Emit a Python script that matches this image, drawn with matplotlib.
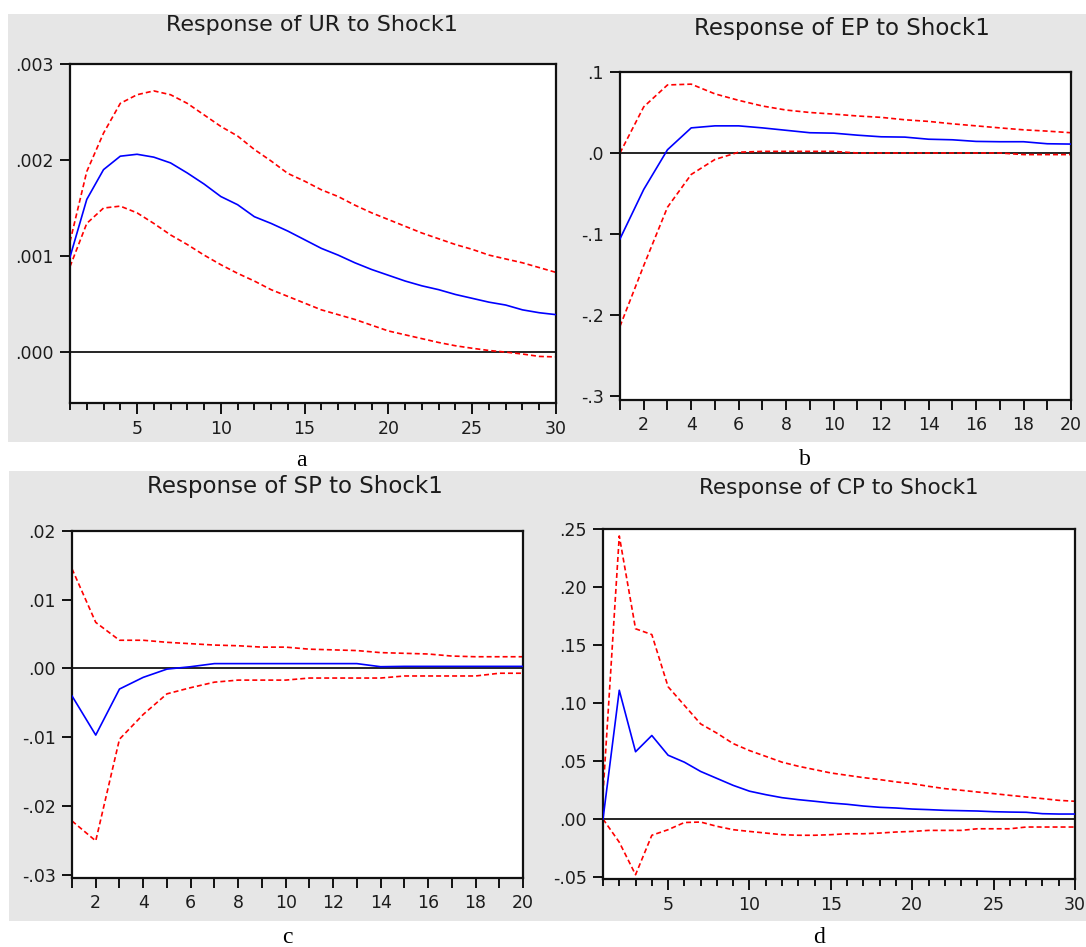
import matplotlib
matplotlib.use("Agg")
import matplotlib.pyplot as plt
from matplotlib.patches import Rectangle
from matplotlib.ticker import MultipleLocator, FixedLocator, FixedFormatter

W, H = 1086, 947
DPI = 100

# ---------------- data ----------------
steps30 = list(range(1, 31))
steps20 = list(range(1, 21))

ur_resp = [0.00099, 0.00159, 0.00190, 0.00204, 0.00206, 0.00203, 0.00197, 0.001865, 0.00175, 0.00162,
           0.001535, 0.00141, 0.00134, 0.00126, 0.00117, 0.00108, 0.00101, 0.00093, 0.00086, 0.00080,
           0.00074, 0.00069, 0.00065, 0.00060, 0.00056, 0.00052, 0.00049, 0.00044, 0.00041, 0.00039]
ur_upper = [0.00115, 0.00188, 0.00228, 0.00259, 0.00268, 0.00272, 0.00268, 0.00259, 0.00247, 0.00235,
            0.00225, 0.00211, 0.00199, 0.00186, 0.00178, 0.00169, 0.00162, 0.00153, 0.00145, 0.00138,
            0.00131, 0.00124, 0.00118, 0.00112, 0.00107, 0.00101, 0.00097, 0.00093, 0.00088, 0.00083]
ur_lower = [0.00089, 0.00134, 0.00150, 0.00152, 0.00145, 0.00134, 0.00122, 0.00112, 0.00101, 0.00091,
            0.00082, 0.00074, 0.00065, 0.00058, 0.00051, 0.00044, 0.00039, 0.00034, 0.00028, 0.00022,
            0.00018, 0.00014, 0.00010, 0.000066, 0.00004, 0.000017, 0.0, -0.00002, -0.000045, -0.00005]

ep_resp = [-0.106, -0.045, 0.004, 0.031, 0.0335, 0.0335, 0.031, 0.028, 0.025, 0.0245,
           0.022, 0.020, 0.0196, 0.017, 0.0163, 0.0143, 0.0139, 0.0139, 0.0114, 0.011]
ep_upper = [0.0, 0.057, 0.084, 0.085, 0.073, 0.065, 0.058, 0.053, 0.050, 0.048,
            0.0457, 0.044, 0.041, 0.039, 0.036, 0.0335, 0.031, 0.0286, 0.027, 0.025]
ep_lower = [-0.214, -0.139, -0.067, -0.0265, -0.008, 0.001, 0.002, 0.002, 0.002, 0.002,
            0.0, 0.0, 0.0, 0.0, 0.0, 0.0, 0.0, -0.002, -0.002, -0.002]

sp_resp = [-0.004, -0.0097, -0.003, -0.0013, -0.0001, 0.00025, 0.0007, 0.0007, 0.0007, 0.0007,
           0.0007, 0.0007, 0.0007, 0.00025, 0.0003, 0.0003, 0.0003, 0.0003, 0.0003, 0.0003]
sp_upper = [0.0145, 0.0067, 0.0041, 0.0041, 0.0038, 0.0036, 0.0034, 0.0033, 0.0031, 0.0031,
            0.0028, 0.0027, 0.0026, 0.0023, 0.0022, 0.0021, 0.0018, 0.0017, 0.0017, 0.0017]
sp_lower = [-0.0222, -0.0251, -0.0103, -0.0067, -0.0037, -0.0028, -0.0020, -0.0017, -0.0017, -0.0017,
            -0.0014, -0.0014, -0.0014, -0.0014, -0.0011, -0.0011, -0.0011, -0.0011, -0.0007, -0.0007]

cp_resp = [0.0, 0.111, 0.058, 0.072, 0.055, 0.049, 0.041, 0.035, 0.029, 0.024,
           0.021, 0.0184, 0.0167, 0.0153, 0.0138, 0.0127, 0.0112, 0.0101, 0.0095, 0.0086,
           0.0081, 0.0075, 0.0072, 0.0069, 0.0063, 0.0060, 0.0058, 0.0046, 0.0043, 0.0043]
cp_upper = [0.022, 0.244, 0.164, 0.159, 0.114, 0.098, 0.082, 0.074, 0.065, 0.059,
            0.054, 0.049, 0.0455, 0.0426, 0.0397, 0.0377, 0.0357, 0.034, 0.032, 0.0305,
            0.0282, 0.0262, 0.0248, 0.0233, 0.0219, 0.0204, 0.019, 0.0176, 0.0161, 0.0153]
cp_lower = [0.0, -0.020, -0.048, -0.014, -0.0092, -0.003, -0.0026, -0.0063, -0.0092, -0.0107,
            -0.0121, -0.0135, -0.014, -0.014, -0.0135, -0.0127, -0.0127, -0.0121, -0.0112, -0.0107,
            -0.0098, -0.0098, -0.0098, -0.0084, -0.0084, -0.0084, -0.0069, -0.0069, -0.0069, -0.0069]

titles = ["Response of UR to Shock1", "Response of EP to Shock1",
          "Response of SP to Shock1", "Response of CP to Shock1"]
sublabels = ["a", "b", "c", "d"]

ur_yticks = [0.0, 0.001, 0.002, 0.003]
ur_ylabels = [".000", ".001", ".002", ".003"]
ep_yticks = [-0.3, -0.2, -0.1, 0.0, 0.1]
ep_ylabels = ["-.3", "-.2", "-.1", ".0", ".1"]
sp_yticks = [-0.03, -0.02, -0.01, 0.0, 0.01, 0.02]
sp_ylabels = ["-.03", "-.02", "-.01", ".00", ".01", ".02"]
cp_yticks = [-0.05, 0.0, 0.05, 0.10, 0.15, 0.20, 0.25]
cp_ylabels = ["-.05", ".00", ".05", ".10", ".15", ".20", ".25"]

# ---------------- figure ----------------
fig = plt.figure(figsize=(W / DPI, H / DPI), dpi=DPI)
fig.patch.set_facecolor("white")

def px_rect(x0, y0, x1, y1):
    return [x0 / W, 1 - y1 / H, (x1 - x0) / W, (y1 - y0) / H]

GRAY = "#e6e6e6"
for (x0, y0, x1, y1) in [(8, 14, 1086, 442), (9, 471, 1086, 921)]:
    l, b, w, h = px_rect(x0, y0, x1, y1)
    fig.patches.append(Rectangle((l, b), w, h, transform=fig.transFigure,
                                 facecolor=GRAY, edgecolor="none", zorder=-10))

panels = [
    dict(box=(70, 64, 556, 403), x=steps30, r=ur_resp, u=ur_upper, lo=ur_lower,
         ylim=(-0.00053, 0.003), yt=ur_yticks, yl=ur_ylabels, xmaj=5, small=True,
         title_xy=(312, 25), tsize=16, lab_xy=(301, 460)),
    dict(box=(620, 72, 1071, 400), x=steps20, r=ep_resp, u=ep_upper, lo=ep_lower,
         ylim=(-0.305, 0.1), yt=ep_yticks, yl=ep_ylabels, xmaj=2, small=False,
         title_xy=(842, 29), tsize=16.5, lab_xy=(805, 459)),
    dict(box=(72, 531, 523, 878), x=steps20, r=sp_resp, u=sp_upper, lo=sp_lower,
         ylim=(-0.0305, 0.02), yt=sp_yticks, yl=sp_ylabels, xmaj=2, small=False,
         title_xy=(295, 487), tsize=16.5, lab_xy=(287, 937)),
    dict(box=(603, 529, 1075, 879), x=steps30, r=cp_resp, u=cp_upper, lo=cp_lower,
         ylim=(-0.0517, 0.25), yt=cp_yticks, yl=cp_ylabels, xmaj=5, small=True,
         title_xy=(839, 488), tsize=15.5, lab_xy=(819, 937)),
]

TXT = "#1c1c1c"
for p, title, lab in zip(panels, titles, sublabels):
    x0, y0, x1, y1 = p["box"]
    ax = fig.add_axes(px_rect(x0, y0, x1, y1), zorder=2)
    ax.set_facecolor("white")
    ax.axhline(0, color="black", lw=1.2, zorder=1)
    ax.plot(p["x"], p["u"], color="#ff0000", lw=1.2, ls=(0, (3, 1.8)), zorder=2)
    ax.plot(p["x"], p["lo"], color="#ff0000", lw=1.2, ls=(0, (3, 1.8)), zorder=2)
    ax.plot(p["x"], p["r"], color="#0000ff", lw=1.2, zorder=3)
    ax.set_xlim(p["x"][0], p["x"][-1])
    ax.set_ylim(*p["ylim"])
    ax.yaxis.set_major_locator(FixedLocator(p["yt"]))
    ax.yaxis.set_major_formatter(FixedFormatter(p["yl"]))
    ax.xaxis.set_major_locator(MultipleLocator(p["xmaj"]))
    ax.xaxis.set_minor_locator(MultipleLocator(1))
    for sp in ax.spines.values():
        sp.set_linewidth(1.6)
        sp.set_color("#111111")
    ax.tick_params(axis="y", direction="out", length=7.5, width=1.3, pad=4,
                   labelsize=12.5, labelcolor=TXT, left=True, right=False)
    if p["small"]:
        ax.tick_params(axis="x", which="major", direction="out", length=8, width=1.3,
                       pad=4, labelsize=12.5, labelcolor=TXT)
        ax.tick_params(axis="x", which="minor", direction="out", length=5, width=1.3)
    else:
        ax.tick_params(axis="x", which="major", direction="out", length=7.5, width=1.3,
                       pad=4, labelsize=12.5, labelcolor=TXT)
        ax.tick_params(axis="x", which="minor", direction="out", length=7.5, width=1.3)
    for t in ax.get_xticklabels() + ax.get_yticklabels():
        t.set_family("DejaVu Sans")
    tx, ty = p["title_xy"]
    fig.text(tx / W, 1 - ty / H, title, ha="center", va="center",
             fontsize=p["tsize"], color=TXT, family="DejaVu Sans")
    lx, ly = p["lab_xy"]
    fig.text(lx / W, 1 - ly / H, lab, ha="center", va="center",
             fontsize=17, color="black", family="Liberation Serif")

fig.savefig("out.png", dpi=DPI)
